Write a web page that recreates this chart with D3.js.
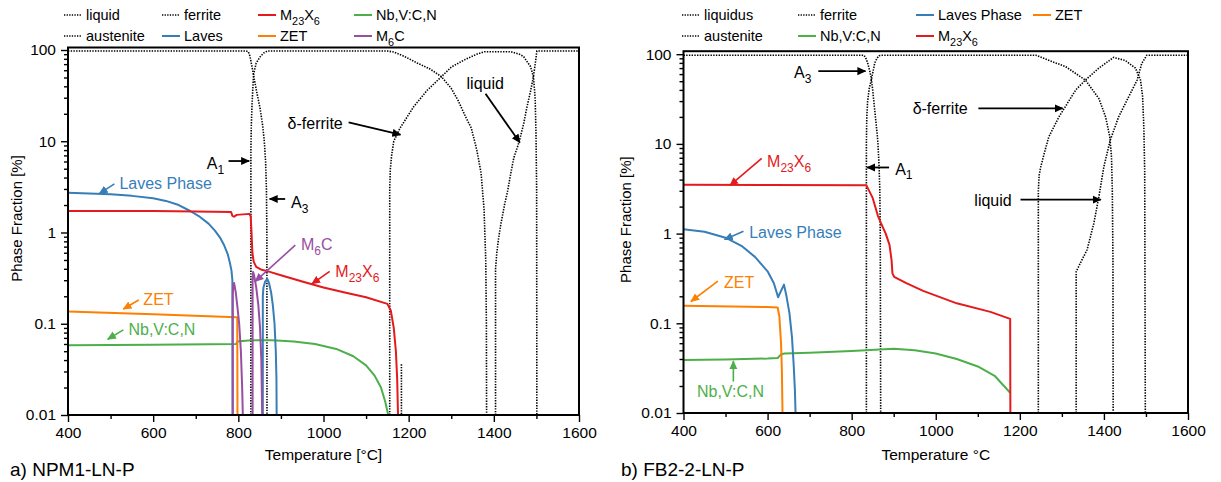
<!DOCTYPE html>
<html><head><meta charset="utf-8">
<script src="https://cdn.jsdelivr.net/npm/d3@7"></script>
<style>
body{margin:0;background:#fff}
svg text{font-family:"Liberation Sans",Arial,Helvetica,sans-serif}
</style></head>
<body><svg id="chart" width="1221" height="482"></svg>
<script>
// ===== Panel a) NPM1-LN-P : [temperature °C, phase fraction %] =====
const aFerrite = [[400,97.5],[818,97.5],[823,96],[826,90],[829,78],[833,62],[836,52],[843,35],[851,23],[857,15],[861,10],[864,6],[866,3],[867,1],[867.3,0.01]];
const aAustenite = [[829.5,0.01],[829.5,8],[830.5,15],[832,24],[834,38],[836,55],[842,72],[851,84],[860,93],[868,97.5],[1150,97.5],[1165,95],[1190,85],[1220,72],[1250,62],[1277,51],[1300,38],[1316,28],[1335,18],[1347,14],[1360,8],[1370,4.5],[1377,1.8],[1381,0.5],[1382.5,0.1],[1383,0.01]];
const aDeltaFerrite = [[1155.5,0.01],[1155.5,3],[1157,5],[1160,7],[1165,10],[1180,14],[1212,24],[1243,36],[1277,51],[1300,65],[1331,78],[1360,90],[1378,95.8],[1440,95.8],[1460,90],[1470,84.5],[1486,66],[1493,51],[1497,30],[1499,12],[1500.5,3],[1501,0.01]];
const aLiquid = [[1404,0.01],[1404,0.4],[1407,0.6],[1411,0.85],[1416,1.2],[1425,2],[1432,2.8],[1440,4.5],[1447,6.6],[1459,9.7],[1470,15.5],[1478,24],[1486,35],[1493,51],[1498,75],[1501,97.5],[1600,97.5]];
const aDottedShort = [[1183,0.036],[1183,0.01]];
const aLaves = [[400,2.72],[450,2.68],[500,2.62],[550,2.52],[600,2.37],[630,2.22],[660,2.0],[687,1.72],[710,1.48],[730,1.25],[745,1.05],[757,0.88],[767,0.72],[775,0.58],[780,0.47],[784,0.38],[786,0.3],[786.5,0.01]];
const aLaves2 = [[857.5,0.01],[857.5,0.2],[859,0.25],[863,0.29],[868,0.31],[872,0.28],[877,0.22],[881,0.16],[885,0.1],[888,0.05],[889.5,0.025],[890,0.01]];
const aM23X6 = [[400,1.72],[600,1.72],[700,1.7],[783,1.68],[786,1.52],[790,1.49],[796,1.56],[826,1.6],[829,1.5],[831,1.0],[833,0.6],[836,0.48],[842,0.42],[855,0.39],[870,0.375],[900,0.34],[950,0.29],[1000,0.25],[1050,0.22],[1100,0.195],[1150,0.165],[1158,0.14],[1165,0.09],[1170,0.05],[1173,0.025],[1175,0.01]];
const aM6C1 = [[787,0.01],[787,0.2],[788,0.27],[790,0.28],[794,0.22],[798,0.15],[802,0.1],[806,0.05],[809,0.02],[810.5,0.01]];
const aM6C2 = [[833.5,0.01],[833.5,0.3],[834.5,0.37],[837,0.34],[842,0.25],[847,0.16],[851,0.09],[854,0.04],[856,0.01]];
const aZET = [[400,0.136],[600,0.127],[795,0.118],[797.5,0.118],[798,0.01]];
const aNbVCN = [[400,0.058],[600,0.059],[795,0.06],[798,0.064],[830,0.066],[880,0.066],[930,0.064],[980,0.06],[1030,0.053],[1070,0.044],[1100,0.035],[1120,0.027],[1135,0.02],[1145,0.014],[1152,0.01]];

// ===== Panel b) FB2-2-LN-P =====
const bFerrite = [[400,97.4],[829,97.4],[833,92],[838,80],[843,65],[846,56],[850,40],[854,26],[858,17],[862,11],[865,6],[867,3],[868,1],[869,0.01]];
const bAustenite = [[835,0.01],[835,10],[836,20],[838,30],[842,42],[847,52],[851,65],[855,80],[860,90],[865,96],[870,97.4],[1238,97.4],[1270,85],[1309,72.6],[1356,51.5],[1388,32],[1404,20],[1414,12],[1418,7.2],[1420,3],[1421.5,0.5],[1422,0.01]];
const bDeltaFerrite = [[1244,0.01],[1244,3],[1246,4.5],[1250,5.6],[1260,8.5],[1269,12],[1293,20],[1333,40],[1356,51.5],[1388,70],[1423,92],[1451,85],[1475,70],[1487,51.5],[1492,34],[1495,15],[1497,5],[1498.5,0.01]];
const bLiquid = [[1334,0.01],[1334,0.376],[1344,0.47],[1360,0.66],[1376,1.3],[1388,2.57],[1400,5.6],[1415,11],[1435,20],[1459,33.6],[1479,51.5],[1490,79],[1502,97.4],[1600,97.4]];
const bLaves = [[400,1.12],[450,1.05],[500,0.9],[540,0.72],[570,0.55],[600,0.38],[615,0.28],[625,0.195],[632,0.23],[639,0.27],[645,0.2],[652,0.13],[658,0.07],[662,0.035],[665,0.018],[666.5,0.01]];
const bZET = [[400,0.157],[600,0.152],[624,0.15],[628,0.12],[632,0.06],[634,0.03],[635.5,0.01]];
const bNbVCN = [[400,0.039],[500,0.0395],[600,0.0405],[624,0.041],[632,0.045],[640,0.046],[700,0.047],[800,0.049],[900,0.052],[950,0.05],[1000,0.046],[1050,0.04],[1100,0.033],[1140,0.026],[1177,0.0168]];
const bM23X6 = [[400,3.5],[600,3.48],[835,3.45],[850,2.5],[862,1.6],[869,1.33],[881,1.0],[890,0.75],[895,0.5],[897,0.36],[901,0.33],[930,0.28],[970,0.23],[1050,0.167],[1130,0.134],[1177,0.112],[1177.5,0.01]];

// ===== axes / legends / labels =====
const xMajorTicks = [400,600,800,1000,1200,1400,1600];
const xMinorTicks = [500,700,900,1100,1300,1500];
const yMajorTicks = [0.01,0.1,1,10,100];
const yTickLabels = ["0.01","0.1","1","10","100"];
const legendA = [["liquid","austenite"],["ferrite","Laves"],["M_{23}X_{6}","ZET"],["Nb,V:C,N","M_{6}C"]];
const legendAKeys = [["dot","dot"],["dot","blue"],["red","orange"],["green","purple"]];
const legendB = [["liquidus","austenite"],["ferrite","Nb,V:C,N"],["Laves Phase","M_{23}X_{6}"],["ZET",null]];
const legendBKeys = [["dot","dot"],["dot","green"],["blue","red"],["orange",null]];

// annotations: [text, colorKey, textT, textV, arrowFromT, fromV, arrowToT, toV]
const notesA = [
 ["A_{1}","dot",726,4.91,777,6.07,825.6,6.07],
 ["A_{3}","dot",923.6,1.85,910,2.33,873.4,2.33],
 ["δ-ferrite","dot",915.7,13.6,1059,16.1,1180.7,11.8],
 ["liquid","dot",1335.9,37.7,1380.5,33.2,1461,9.68],
 ["Laves Phase","blue",520.7,3.0,509,3.41,473.7,2.67],
 ["M_{6}C","purple",947,0.64,933.8,0.727,839.7,0.291],
 ["M_{23}X_{6}","red",1027.8,0.325,1014.5,0.375,973,0.274],
 ["ZET","orange",577,0.161,566,0.182,530,0.145],
 ["Nb,V:C,N","green",541.9,0.0748,530,0.0857,493.3,0.0676]
];
const notesB = [
 ["A_{3}","dot",663,54.5,720.6,64.8,832.9,64.8],
 ["A_{1}","dot",903.4,4.55,889,5.46,836.9,5.46],
 ["δ-ferrite","dot",945,21.3,1101.4,24.9,1301.8,24.9],
 ["liquid","dot",1091.8,2.05,1201.6,2.39,1392.4,2.39],
 ["M_{23}X_{6}","red",598.8,5.56,586,6.9,510.6,3.44],
 ["Laves Phase","blue",556.3,0.897,542.7,1.06,497.8,0.859],
 ["ZET","orange",496.2,0.248,481.8,0.295,417.6,0.175],
 ["Nb,V:C,N","green",432,0.0149,518.6,0.0224,518.6,0.0378]
];

const colors = {red:"#e41a1c",blue:"#377eb8",green:"#4daf4a",orange:"#ff7f00",purple:"#984ea3",dot:"#000"};

const svg = d3.select("#chart");
const defs = svg.append("defs");
Object.entries(colors).forEach(([k,c])=>{
  defs.append("marker").attr("id","ah-"+k).attr("viewBox","0 0 10 10")
    .attr("refX",9).attr("refY",5).attr("markerUnits","userSpaceOnUse")
    .attr("markerWidth",9).attr("markerHeight",9).attr("orient","auto")
    .append("path").attr("d","M0,0.5 L10,5 L0,9.5 Z").attr("fill",c);
});

function rich(sel,str,size){
  const parts = str.split(/(_\{[^}]*\})/).filter(s=>s.length);
  let sub=false;
  parts.forEach(p=>{
    if(p.startsWith("_{")){
      sel.append("tspan").attr("dy",size*0.3).attr("font-size",size*0.75).text(p.slice(2,-1));
      sub=true;
    } else {
      sel.append("tspan").attr("dy",sub?-size*0.3:0).text(p);
      sub=false;
    }
  });
}

const panels = [
 {id:"a", x0:68, x1:579, yTop:50, yBot:415, frameTop:47.5,
  dotted:[aFerrite,aAustenite,aDeltaFerrite,aLiquid,aDottedShort],
  lines:[[aNbVCN,"green"],[aZET,"orange"],[aLaves,"blue"],[aLaves2,"blue"],[aM6C1,"purple"],[aM6C2,"purple"],[aM23X6,"red"]],
  notes:notesA, legend:legendA, legendKeys:legendAKeys, legX:[64,162,258,354], legTextDx:22,
  xlabel:"Temperature [°C]", title:"a) NPM1-LN-P", titleX:10, ylabX:17},
 {id:"b", x0:683.5, x1:1188, yTop:54.2, yBot:413, frameTop:51.2,
  dotted:[bFerrite,bAustenite,bDeltaFerrite,bLiquid],
  lines:[[bNbVCN,"green"],[bZET,"orange"],[bLaves,"blue"],[bM23X6,"red"]],
  notes:notesB, legend:legendB, legendKeys:legendBKeys, legX:[682,798,916,1033], legTextDx:22,
  xlabel:"Temperature °C", title:"b) FB2-2-LN-P", titleX:621, ylabX:626}
];

panels.forEach(p=>{
  const x = d3.scaleLinear().domain([400,1600]).range([p.x0,p.x1]);
  const y = d3.scaleLog().domain([0.01,100]).range([p.yBot,p.yTop]);
  const g = svg.append("g");
  const clipId = "clip-"+p.id;
  defs.append("clipPath").attr("id",clipId).append("rect")
    .attr("x",p.x0).attr("y",p.frameTop).attr("width",p.x1-p.x0).attr("height",p.yBot-p.frameTop);
  const line = d3.line().x(d=>x(d[0])).y(d=>y(d[1]));
  const plot = g.append("g").attr("clip-path",`url(#${clipId})`);
  p.dotted.forEach(s=>plot.append("path").attr("d",line(s)).attr("fill","none")
     .attr("stroke","#000").attr("stroke-width",1.6).attr("stroke-dasharray","1.4,1.3"));
  p.lines.forEach(([s,c])=>plot.append("path").attr("d",line(s)).attr("fill","none")
     .attr("stroke",colors[c]).attr("stroke-width",2).attr("stroke-linejoin","round"));

  // frame
  g.append("rect").attr("x",p.x0).attr("y",p.frameTop).attr("width",p.x1-p.x0).attr("height",p.yBot-p.frameTop)
   .attr("fill","none").attr("stroke","#000").attr("stroke-width",2);

  // x axis
  g.append("g").attr("transform",`translate(0,${p.yBot})`)
    .call(d3.axisBottom(x).tickValues(xMajorTicks).tickSize(7).tickPadding(5).tickFormat(d3.format("d")));
  g.append("g").attr("transform",`translate(0,${p.yBot})`)
    .call(d3.axisBottom(x).tickValues(xMinorTicks).tickSize(4).tickFormat(""));
  // y axis
  g.append("g").attr("transform",`translate(${p.x0},0)`)
    .call(d3.axisLeft(y).tickValues(yMajorTicks).tickSize(7).tickPadding(5).tickFormat((d,i)=>yTickLabels[i]));
  const minor=[]; [0.01,0.1,1,10].forEach(b=>{for(let k=2;k<=9;k++)minor.push(b*k);});
  g.append("g").attr("transform",`translate(${p.x0},0)`)
    .call(d3.axisLeft(y).tickValues(minor).tickSize(4).tickFormat(""));
  g.selectAll(".domain").remove();
  g.selectAll(".tick line").attr("stroke","#000").attr("stroke-width",1.4);
  g.selectAll(".tick text").attr("font-size",15.5).attr("fill","#000")
   .attr("font-family","'Liberation Sans',Arial,sans-serif");

  // axis labels
  g.append("text").attr("x",(p.x0+p.x1)/2).attr("y",460).attr("text-anchor","middle")
   .attr("font-size",15.5).text(p.xlabel);
  g.append("text").attr("transform",`translate(${p.ylabX+5},${(p.yTop+p.yBot)/2-14}) rotate(-90)`)
   .attr("text-anchor","middle").attr("font-size",15).text("Phase Fraction [%]");
  g.append("text").attr("x",p.titleX).attr("y",476).attr("font-size",19)
   .attr("font-family","Lato,'Open Sans',sans-serif").text(p.title);

  // legend
  p.legend.forEach((col,ci)=>col.forEach((name,ri)=>{
    if(!name) return;
    const key = p.legendKeys[ci][ri];
    const ly = ri===0?15:36;
    const lx = p.legX[ci];
    g.append("line").attr("x1",lx).attr("x2",lx+18).attr("y1",ly).attr("y2",ly)
      .attr("stroke",colors[key]).attr("stroke-width",key==="dot"?1.4:2)
      .attr("stroke-dasharray",key==="dot"?"1.3,1.3":null);
    const t = g.append("text").attr("x",lx+p.legTextDx).attr("y",ly+5.2).attr("font-size",14.5);
    rich(t,name,14.5);
  }));

  // annotations
  p.notes.forEach(([txt,ck,tT,tV,fT,fV,toT,toV])=>{
    const c = colors[ck];
    g.append("line").attr("x1",x(fT)).attr("y1",y(fV)).attr("x2",x(toT)).attr("y2",y(toV))
     .attr("stroke",c).attr("stroke-width",ck==="dot"?1.8:1.6).attr("marker-end",`url(#ah-${ck})`);
    const t = g.append("text").attr("x",x(tT)).attr("y",y(tV)).attr("font-size",16).attr("fill",c);
    rich(t,txt,16);
  });
});
</script>
</body></html>
